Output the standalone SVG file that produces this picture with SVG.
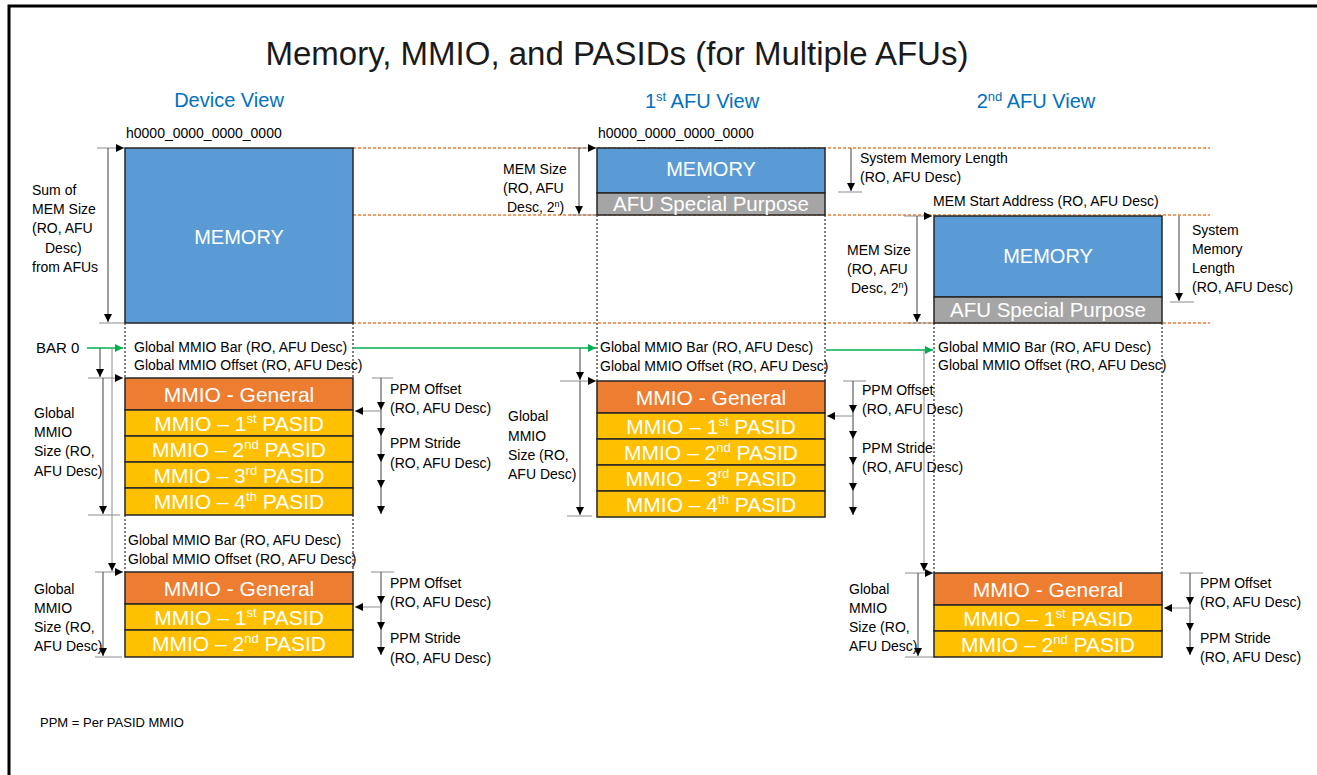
<svg xmlns="http://www.w3.org/2000/svg" width="1317" height="775" viewBox="0 0 1317 775">
<style>
text{font-family:"Liberation Sans",Arial,sans-serif}
.lbl{font-size:14px;fill:#000}
.hd{font-size:20px;fill:#0070C0;text-anchor:middle}
.big{font-size:21px;fill:#fff;text-anchor:middle}
.mem{font-size:20px;fill:#fff;text-anchor:middle}
.sp{font-size:20.5px;fill:#fff;text-anchor:middle}
.sup{font-size:13px}
.sup2{font-size:9px}
.bx{stroke:#262626;stroke-width:1.5}
.blue{fill:#5B9BD5}
.gray{fill:#A5A5A5}
.org{fill:#ED7D31}
.yel{fill:#FFC000}
.ln{stroke:#404040;stroke-width:1;fill:none}
.tk{stroke:#8c8c8c;stroke-width:1;fill:none}
.a{marker-end:url(#ah)}
.gr{stroke:#00B050;stroke-width:1.6;fill:none;marker-end:url(#ahg)}
.od{stroke:#ED7D31;stroke-width:1.3;stroke-dasharray:3,2;fill:none}
.bd{stroke:#000;stroke-width:1;stroke-dasharray:2,2;fill:none}
</style>
<defs>
<marker id="ah" markerWidth="8" markerHeight="8" refX="8" refY="4" orient="auto" markerUnits="userSpaceOnUse"><path d="M0,0 L8,4 L0,8 z" fill="#000"/></marker>
<marker id="ahg" markerWidth="8" markerHeight="8" refX="8" refY="4" orient="auto" markerUnits="userSpaceOnUse"><path d="M0,0 L8,4 L0,8 z" fill="#00B050"/></marker>
</defs>
<rect width="1317" height="775" fill="#fff"/>
<g id="frame"><path d="M9,775 V6 H1317" stroke="#000" stroke-width="3" fill="none"/></g>

<g id="title">
<text x="617" y="65" style="font-size:33px" text-anchor="middle" fill="#1a1a1a">Memory, MMIO, and PASIDs (for Multiple AFUs)</text>
<text class="hd" x="229" y="107">Device View</text>
<text class="hd" x="702" y="108">1<tspan class="sup" dy="-7">st</tspan><tspan dy="7"> AFU View</tspan></text>
<text class="hd" x="1036" y="108">2<tspan class="sup" dy="-7">nd</tspan><tspan dy="7"> AFU View</tspan></text>
</g>

<g id="guides">
<line class="od" x1="353" y1="148" x2="1210" y2="148"/>
<line class="od" x1="353" y1="215" x2="1210" y2="215"/>
<line class="od" x1="353" y1="323" x2="1210" y2="323"/>
<line class="bd" x1="125" y1="323" x2="125" y2="378"/>
<line class="bd" x1="353" y1="323" x2="353" y2="378"/>
<line class="bd" x1="125" y1="515" x2="125" y2="572"/>
<line class="bd" x1="353" y1="515" x2="353" y2="572"/>
<line class="bd" x1="597" y1="215" x2="597" y2="381"/>
<line class="bd" x1="825" y1="215" x2="825" y2="381"/>
<line class="bd" x1="934" y1="323" x2="934" y2="573"/>
<line class="bd" x1="1162" y1="323" x2="1162" y2="573"/>
</g>

<g id="connectors">
<line class="tk a" x1="97" y1="148" x2="124" y2="148"/>
<line class="ln a" x1="108" y1="148" x2="108" y2="322"/>
<line class="tk" x1="99" y1="323" x2="125" y2="323"/>
<line class="tk a" x1="567" y1="148" x2="596" y2="148"/>
<line class="ln a" x1="579" y1="148" x2="579" y2="214"/>
<line class="tk" x1="570" y1="215" x2="597" y2="215"/>
<line class="ln a" x1="851" y1="148" x2="851" y2="191"/>
<line class="tk" x1="838" y1="192" x2="862" y2="192"/>
<line class="tk a" x1="904" y1="216" x2="932" y2="216"/>
<line class="ln a" x1="917" y1="216" x2="917" y2="322"/>
<line class="tk" x1="906" y1="323" x2="933" y2="323"/>
<line class="ln a" x1="1179" y1="216" x2="1179" y2="301"/>
<line class="tk" x1="1170" y1="302" x2="1194" y2="302"/>
<line class="gr" x1="87" y1="348" x2="123" y2="348"/>
<line class="gr" x1="353" y1="348" x2="596" y2="348"/>
<line class="gr" x1="826" y1="350" x2="933" y2="350"/>
<line class="ln a" x1="100" y1="348" x2="100" y2="377"/>
<line class="tk a" x1="112" y1="348" x2="112" y2="571"/>
<line class="tk a" x1="88" y1="378" x2="123" y2="378"/>
<line class="ln a" x1="103" y1="378" x2="103" y2="514"/>
<line class="tk" x1="88" y1="515" x2="120" y2="515"/>
<line class="tk a" x1="95" y1="572" x2="123" y2="572"/>
<line class="ln a" x1="103" y1="572" x2="103" y2="656"/>
<line class="tk" x1="95" y1="657" x2="122" y2="657"/>
<line class="tk" x1="372" y1="378" x2="393" y2="378"/>
<line class="ln a" x1="381" y1="378" x2="381" y2="410"/>
<line class="ln a" x1="381" y1="410" x2="381" y2="436"/>
<line class="ln a" x1="381" y1="436" x2="381" y2="462"/>
<line class="ln a" x1="381" y1="462" x2="381" y2="488"/>
<line class="ln a" x1="381" y1="488" x2="381" y2="514"/>
<line class="tk a" x1="381" y1="411" x2="355" y2="411"/>
<line class="tk" x1="371" y1="572" x2="394" y2="572"/>
<line class="ln a" x1="381" y1="572" x2="381" y2="604"/>
<line class="ln a" x1="381" y1="604" x2="381" y2="630"/>
<line class="ln a" x1="381" y1="630" x2="381" y2="655"/>
<line class="tk a" x1="381" y1="607" x2="355" y2="607"/>
<line class="ln a" x1="580" y1="348" x2="580" y2="380"/>
<line class="tk a" x1="560" y1="381" x2="596" y2="381"/>
<line class="ln a" x1="580" y1="381" x2="580" y2="515"/>
<line class="tk" x1="567" y1="516" x2="592" y2="516"/>
<line class="tk" x1="843" y1="381" x2="866" y2="381"/>
<line class="ln a" x1="853" y1="381" x2="853" y2="413"/>
<line class="ln a" x1="853" y1="413" x2="853" y2="439"/>
<line class="ln a" x1="853" y1="439" x2="853" y2="465"/>
<line class="ln a" x1="853" y1="465" x2="853" y2="491"/>
<line class="ln a" x1="853" y1="491" x2="853" y2="515"/>
<line class="tk a" x1="853" y1="416" x2="827" y2="416"/>
<line class="tk a" x1="924" y1="350" x2="924" y2="571"/>
<line class="tk a" x1="905" y1="573" x2="933" y2="573"/>
<line class="ln a" x1="918" y1="573" x2="918" y2="656"/>
<line class="tk" x1="905" y1="657" x2="938" y2="657"/>
<line class="tk" x1="1180" y1="573" x2="1203" y2="573"/>
<line class="ln a" x1="1190" y1="573" x2="1190" y2="605"/>
<line class="ln a" x1="1190" y1="605" x2="1190" y2="631"/>
<line class="ln a" x1="1190" y1="631" x2="1190" y2="655"/>
<line class="tk a" x1="1190" y1="608" x2="1164" y2="608"/>
</g>

<g id="dev-memory">
<rect class="bx blue" x="125" y="148" width="228" height="175"/>
<text class="mem" x="239" y="244">MEMORY</text>
</g>
<g id="dev-mmio1">
<rect class="bx org" x="125" y="378" width="228" height="32"/>
<text class="big" x="239" y="402">MMIO - General</text>
<rect class="bx yel" x="125" y="410" width="228" height="26"/>
<text class="big" x="239" y="431">MMIO – 1<tspan class="sup" dy="-8">st</tspan><tspan dy="8"> PASID</tspan></text>
<rect class="bx yel" x="125" y="436" width="228" height="26"/>
<text class="big" x="239" y="457">MMIO – 2<tspan class="sup" dy="-8">nd</tspan><tspan dy="8"> PASID</tspan></text>
<rect class="bx yel" x="125" y="462" width="228" height="26"/>
<text class="big" x="239" y="483">MMIO – 3<tspan class="sup" dy="-8">rd</tspan><tspan dy="8"> PASID</tspan></text>
<rect class="bx yel" x="125" y="488" width="228" height="27"/>
<text class="big" x="239" y="509">MMIO – 4<tspan class="sup" dy="-8">th</tspan><tspan dy="8"> PASID</tspan></text>
</g>
<g id="dev-mmio2">
<rect class="bx org" x="125" y="572" width="228" height="32"/>
<text class="big" x="239" y="596">MMIO - General</text>
<rect class="bx yel" x="125" y="604" width="228" height="26"/>
<text class="big" x="239" y="625">MMIO – 1<tspan class="sup" dy="-8">st</tspan><tspan dy="8"> PASID</tspan></text>
<rect class="bx yel" x="125" y="630" width="228" height="27"/>
<text class="big" x="239" y="651">MMIO – 2<tspan class="sup" dy="-8">nd</tspan><tspan dy="8"> PASID</tspan></text>
</g>

<g id="afu1-memory">
<rect class="bx blue" x="597" y="148" width="228" height="45"/>
<text class="mem" x="711" y="176">MEMORY</text>
<rect class="bx gray" x="597" y="193" width="228" height="22"/>
<text class="sp" x="711" y="211">AFU Special Purpose</text>
</g>
<g id="afu1-mmio">
<rect class="bx org" x="597" y="381" width="228" height="32"/>
<text class="big" x="711" y="405">MMIO - General</text>
<rect class="bx yel" x="597" y="413" width="228" height="26"/>
<text class="big" x="711" y="434">MMIO – 1<tspan class="sup" dy="-8">st</tspan><tspan dy="8"> PASID</tspan></text>
<rect class="bx yel" x="597" y="439" width="228" height="26"/>
<text class="big" x="711" y="460">MMIO – 2<tspan class="sup" dy="-8">nd</tspan><tspan dy="8"> PASID</tspan></text>
<rect class="bx yel" x="597" y="465" width="228" height="26"/>
<text class="big" x="711" y="486">MMIO – 3<tspan class="sup" dy="-8">rd</tspan><tspan dy="8"> PASID</tspan></text>
<rect class="bx yel" x="597" y="491" width="228" height="26"/>
<text class="big" x="711" y="512">MMIO – 4<tspan class="sup" dy="-8">th</tspan><tspan dy="8"> PASID</tspan></text>
</g>

<g id="afu2-memory">
<rect class="bx blue" x="934" y="216" width="228" height="81"/>
<text class="mem" x="1048" y="263">MEMORY</text>
<rect class="bx gray" x="934" y="297" width="228" height="26"/>
<text class="sp" x="1048" y="317">AFU Special Purpose</text>
</g>
<g id="afu2-mmio">
<rect class="bx org" x="934" y="573" width="228" height="32"/>
<text class="big" x="1048" y="597">MMIO - General</text>
<rect class="bx yel" x="934" y="605" width="228" height="26"/>
<text class="big" x="1048" y="626">MMIO – 1<tspan class="sup" dy="-8">st</tspan><tspan dy="8"> PASID</tspan></text>
<rect class="bx yel" x="934" y="631" width="228" height="26"/>
<text class="big" x="1048" y="652">MMIO – 2<tspan class="sup" dy="-8">nd</tspan><tspan dy="8"> PASID</tspan></text>
</g>

<g id="labels">
<text class="lbl" x="126" y="138">h0000_0000_0000_0000</text>
<text class="lbl" x="598" y="138">h0000_0000_0000_0000</text>
<text class="lbl"><tspan x="32" y="195">Sum of</tspan><tspan x="32" y="214">MEM Size</tspan><tspan x="32" y="233">(RO, AFU</tspan><tspan x="45" y="253">Desc)</tspan><tspan x="32" y="272">from AFUs</tspan></text>
<text class="lbl"><tspan x="503" y="174">MEM Size</tspan><tspan x="503" y="193">(RO, AFU</tspan><tspan x="507" y="212">Desc, 2<tspan class="sup2" dy="-5">n</tspan><tspan dy="5">)</tspan></tspan></text>
<text class="lbl"><tspan x="860" y="163">System Memory Length</tspan><tspan x="860" y="182">(RO, AFU Desc)</tspan></text>
<text class="lbl" x="933" y="206">MEM Start Address (RO, AFU Desc)</text>
<text class="lbl"><tspan x="847" y="255">MEM Size</tspan><tspan x="847" y="274">(RO, AFU</tspan><tspan x="851" y="293">Desc, 2<tspan class="sup2" dy="-5">n</tspan><tspan dy="5">)</tspan></tspan></text>
<text class="lbl"><tspan x="1192" y="235">System</tspan><tspan x="1192" y="254">Memory</tspan><tspan x="1192" y="273">Length</tspan><tspan x="1192" y="292">(RO, AFU Desc)</tspan></text>
<text class="lbl" x="36" y="353" style="font-size:15px">BAR 0</text>
<text class="lbl"><tspan x="134" y="352">Global MMIO Bar (RO, AFU Desc)</tspan><tspan x="134" y="370">Global MMIO Offset (RO, AFU Desc)</tspan></text>
<text class="lbl"><tspan x="600" y="352">Global MMIO Bar (RO, AFU Desc)</tspan><tspan x="600" y="371">Global MMIO Offset (RO, AFU Desc)</tspan></text>
<text class="lbl"><tspan x="938" y="352">Global MMIO Bar (RO, AFU Desc)</tspan><tspan x="938" y="370">Global MMIO Offset (RO, AFU Desc)</tspan></text>
<text class="lbl"><tspan x="128" y="545">Global MMIO Bar (RO, AFU Desc)</tspan><tspan x="128" y="564">Global MMIO Offset (RO, AFU Desc)</tspan></text>
<text class="lbl"><tspan x="34" y="418">Global</tspan><tspan x="34" y="437">MMIO</tspan><tspan x="34" y="456">Size (RO,</tspan><tspan x="34" y="476">AFU Desc)</tspan></text>
<text class="lbl"><tspan x="34" y="594">Global</tspan><tspan x="34" y="613">MMIO</tspan><tspan x="34" y="632">Size (RO,</tspan><tspan x="34" y="651">AFU Desc)</tspan></text>
<text class="lbl"><tspan x="508" y="421">Global</tspan><tspan x="508" y="441">MMIO</tspan><tspan x="508" y="460">Size (RO,</tspan><tspan x="508" y="479">AFU Desc)</tspan></text>
<text class="lbl"><tspan x="849" y="594">Global</tspan><tspan x="849" y="613">MMIO</tspan><tspan x="849" y="632">Size (RO,</tspan><tspan x="849" y="651">AFU Desc)</tspan></text>
<text class="lbl"><tspan x="390" y="394">PPM Offset</tspan><tspan x="390" y="413">(RO, AFU Desc)</tspan><tspan x="390" y="448">PPM Stride</tspan><tspan x="390" y="468">(RO, AFU Desc)</tspan></text>
<text class="lbl"><tspan x="390" y="588">PPM Offset</tspan><tspan x="390" y="607">(RO, AFU Desc)</tspan><tspan x="390" y="643">PPM Stride</tspan><tspan x="390" y="663">(RO, AFU Desc)</tspan></text>
<text class="lbl"><tspan x="862" y="395">PPM Offset</tspan><tspan x="862" y="414">(RO, AFU Desc)</tspan><tspan x="862" y="453">PPM Stride</tspan><tspan x="862" y="472">(RO, AFU Desc)</tspan></text>
<text class="lbl"><tspan x="1200" y="588">PPM Offset</tspan><tspan x="1200" y="607">(RO, AFU Desc)</tspan><tspan x="1200" y="643">PPM Stride</tspan><tspan x="1200" y="662">(RO, AFU Desc)</tspan></text>
<text class="lbl" x="40" y="727" style="font-size:13px">PPM = Per PASID MMIO</text>
</g>
</svg>
